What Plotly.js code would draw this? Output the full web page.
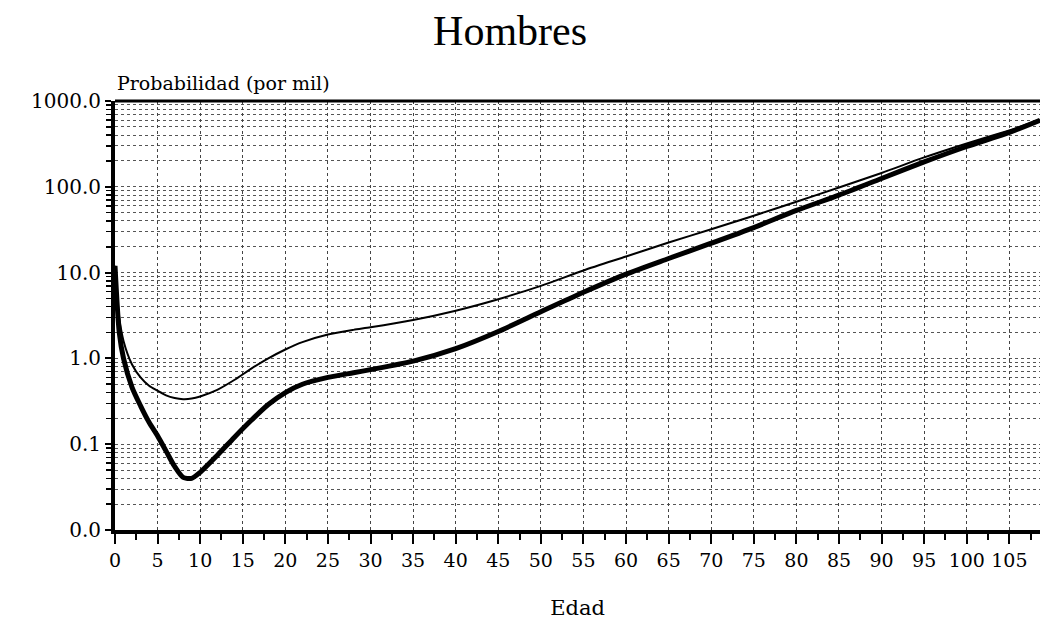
<!DOCTYPE html>
<html>
<head>
<meta charset="utf-8">
<script src="https://cdn.plot.ly/plotly-3.0.1.min.js"></script>
<style>html,body{margin:0;padding:0;background:#fff;}#chart{width:1041px;height:635px;}</style>
</head>
<body>
<div id="chart"></div>
<script>
const edades = [0, 0.5, 1, 2, 3, 4, 5, 6, 7, 8, 9, 10, 12, 14, 16, 18, 20, 22, 25, 28, 30, 35, 40, 45, 50, 55, 60, 65, 70, 75, 80, 85, 90, 95, 100, 105, 108.6];
const serieFina = [12, 3.0, 1.6, 0.85, 0.6, 0.48, 0.42, 0.37, 0.345, 0.335, 0.34, 0.36, 0.43, 0.56, 0.76, 1.0, 1.27, 1.55, 1.9, 2.15, 2.3, 2.8, 3.6, 4.9, 7.0, 10.6, 15.4, 22.4, 32, 46, 67, 98, 145, 220, 320, 455, 600];
const serieGruesa = [12, 2.0, 1.0, 0.46, 0.28, 0.18, 0.125, 0.083, 0.055, 0.041, 0.04, 0.047, 0.074, 0.12, 0.19, 0.29, 0.4, 0.5, 0.6, 0.68, 0.74, 0.93, 1.3, 2.06, 3.5, 5.9, 9.6, 14.6, 22, 33.5, 53, 80, 125, 195, 295, 430, 595];
const yTickVals = [0.01, 0.1, 1, 10, 100, 1000];
const yTickText = ['0.0', '0.1', '1.0', '10.0', '100.0', '1000.0'];
const xTickVals = [0,5,10,15,20,25,30,35,40,45,50,55,60,65,70,75,80,85,90,95,100,105];

const serif = '"DejaVu Serif", serif';

const traces = [
  {x: edades, y: serieFina, mode: 'lines', line: {color: '#000', width: 2, shape: 'spline', smoothing: 0.7}, hoverinfo: 'skip', showlegend: false},
  {x: edades, y: serieGruesa, mode: 'lines', line: {color: '#000', width: 5, shape: 'spline', smoothing: 0.7}, hoverinfo: 'skip', showlegend: false}
];

const layout = {
  width: 1041, height: 635,
  margin: {l: 115, r: 1, t: 101, b: 105},
  paper_bgcolor: '#fff', plot_bgcolor: '#fff',
  title: {text: 'Hombres', font: {family: '"Liberation Serif", serif', size: 42, color: '#000'}, x: 0.49, xanchor: 'center', y: 0.953, yanchor: 'middle'},
  xaxis: {
    range: [0, 108.6], tickvals: xTickVals, ticktext: xTickVals.map(String),
    ticks: 'outside', ticklen: 10, tickwidth: 2, tickcolor: '#000',
    showline: true, linewidth: 4, linecolor: '#000', mirror: false,
    showgrid: true, gridcolor: '#444', griddash: 'dot', gridwidth: 1,
    zeroline: false,
    tickfont: {family: serif, size: 19, color: '#000'},
    minor: {dtick: 2.5, tick0: 0, ticks: 'outside', ticklen: 6, tickwidth: 2, tickcolor: '#000', showgrid: false},
    title: {text: 'Edad', font: {family: serif, size: 21, color: '#000'}, standoff: 32}
  },
  yaxis: {
    type: 'log', range: [-2, 3], tickvals: yTickVals, ticktext: yTickText,
    ticks: 'outside', ticklen: 6, tickwidth: 2, tickcolor: '#000',
    showline: true, linewidth: 4, linecolor: '#000', mirror: false,
    showgrid: false, zeroline: false,
    tickfont: {family: serif, size: 20, color: '#000'},
    minor: {dtick: 'D1', ticks: 'outside', ticklen: 5, tickwidth: 1.5, tickcolor: '#000', showgrid: true, gridcolor: '#555', griddash: 'dot', gridwidth: 1}
  },
  shapes: [
    {type: 'line', xref: 'paper', yref: 'paper', x0: 0, x1: 1, y0: 1, y1: 1, line: {color: '#000', width: 3}}
  ],
  annotations: [
    {text: 'Probabilidad (por mil)', xref: 'paper', yref: 'paper', x: 0, y: 1, xanchor: 'left', yanchor: 'bottom', yshift: 5, xshift: 0, showarrow: false, font: {family: serif, size: 19, color: '#000'}}
  ]
};

Plotly.newPlot('chart', traces, layout, {staticPlot: true, displayModeBar: false});
</script>
</body>
</html>
